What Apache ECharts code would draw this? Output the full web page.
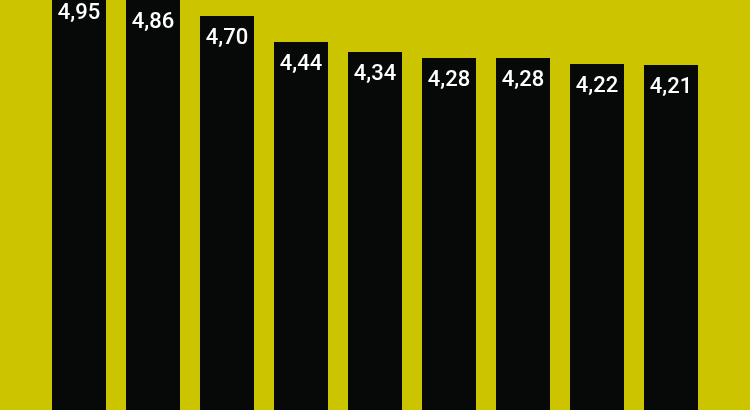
<!DOCTYPE html>
<html><head><meta charset="utf-8">
<script src="https://cdn.jsdelivr.net/npm/echarts@6/dist/echarts.min.js"></script>
<style>html,body{margin:0;padding:0;background:#cdc400}#c{width:750px;height:410px}</style>
</head><body><div id="c"></div>
<script>
const categories = ['1','2','3','4','5','6','7','8','9'];
const values = [4.95, 4.86, 4.70, 4.44, 4.34, 4.28, 4.28, 4.22, 4.21];
const chart = echarts.init(document.getElementById('c'));
chart.setOption({
  backgroundColor: '#cdc400',
  animation: false,
  grid: {left: 42, right: 42, top: 0, bottom: 0},
  xAxis: {type: 'category', data: categories, show: false},
  yAxis: {type: 'value', min: 0.76, max: 4.86, show: false},
  series: [{
    type: 'bar', data: values, barWidth: 54, clip: false,
    itemStyle: {color: '#070808'},
    label: {show: true, position: 'insideTop', distance: 11, color: '#fff',
      fontFamily: 'Roboto', fontSize: 22, fontWeight: 500,
      formatter: p => p.value.toFixed(2).replace('.', ',')}
  }]
});
</script></body></html>
